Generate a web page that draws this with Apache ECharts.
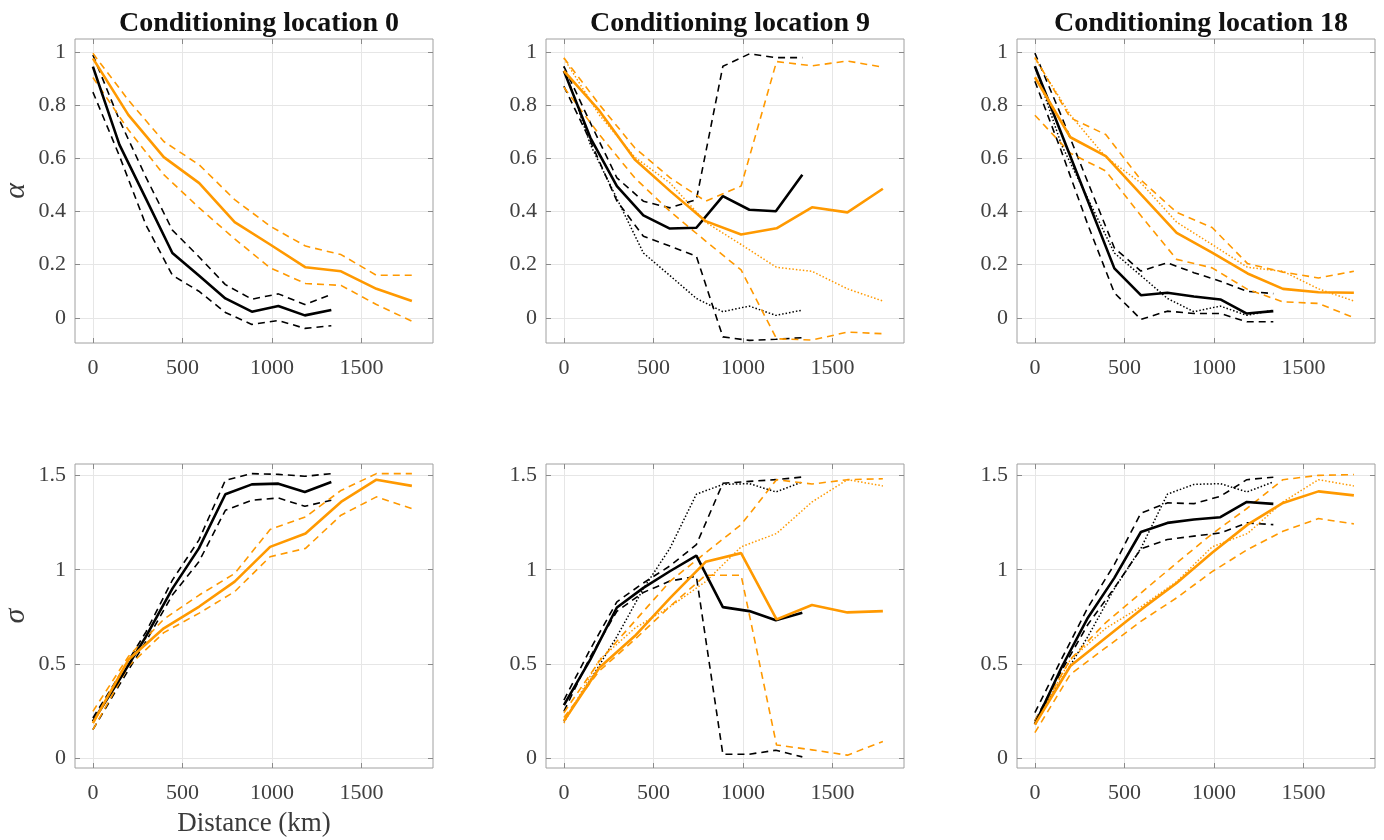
<!DOCTYPE html>
<html>
<head>
<meta charset="utf-8">
<title>Conditioning locations</title>
<script src="https://cdn.jsdelivr.net/npm/echarts@6/dist/echarts.min.js"></script>
<style>
html, body { margin: 0; padding: 0; background: #fff; }
#chart { width: 1384px; height: 840px; }
</style>
</head>
<body>
<div id="chart"></div>
<script>
// distances (km) of the curve vertices
const distBlack = [0, 148, 296, 444, 592, 740, 888, 1036, 1184, 1332]
const distOrange = [0, 198, 396, 594, 792, 990, 1188, 1386, 1584, 1782]

// alpha, conditioning location 0
const a0BlackMid = [0.946, 0.652, 0.449, 0.244, 0.159, 0.073, 0.023, 0.044, 0.009, 0.029]
const a0BlackHi = [0.99, 0.745, 0.53, 0.33, 0.23, 0.125, 0.07, 0.09, 0.05, 0.088]
const a0BlackLo = [0.85, 0.61, 0.35, 0.16, 0.10, 0.02, -0.025, -0.01, -0.04, -0.03]
const a0OrangeMid = [0.977, 0.764, 0.605, 0.507, 0.36, 0.276, 0.19, 0.175, 0.109, 0.063]
const a0OrangeHi = [0.996, 0.82, 0.664, 0.576, 0.445, 0.345, 0.27, 0.238, 0.16, 0.16]
const a0OrangeLo = [0.905, 0.708, 0.539, 0.414, 0.297, 0.188, 0.129, 0.122, 0.05, -0.013]

// alpha, conditioning location 9
const a9BlackMid = [0.93, 0.678, 0.496, 0.386, 0.336, 0.339, 0.458, 0.407, 0.401, 0.539]
const a9BlackHi = [0.947, 0.734, 0.527, 0.439, 0.414, 0.445, 0.947, 0.994, 0.98, 0.98]
const a9BlackLo = [0.872, 0.665, 0.44, 0.307, 0.27, 0.232, -0.072, -0.085, -0.081, -0.075]
const a9OrangeMid = [0.93, 0.78, 0.596, 0.477, 0.364, 0.314, 0.337, 0.416, 0.397, 0.486]
const a9OrangeHi = [0.979, 0.803, 0.64, 0.527, 0.439, 0.496, 0.965, 0.949, 0.967, 0.944]
const a9OrangeLo = [0.868, 0.69, 0.527, 0.40, 0.289, 0.18, -0.079, -0.084, -0.054, -0.06]

// alpha, conditioning location 18
const a18BlackMid = [0.947, 0.694, 0.44, 0.186, 0.085, 0.094, 0.08, 0.069, 0.016, 0.025]
const a18BlackHi = [0.997, 0.76, 0.51, 0.263, 0.176, 0.207, 0.17, 0.138, 0.10, 0.091]
const a18BlackLo = [0.891, 0.627, 0.35, 0.094, -0.006, 0.025, 0.016, 0.016, -0.015, -0.015]
const a18OrangeMid = [0.906, 0.68, 0.609, 0.464, 0.32, 0.245, 0.167, 0.109, 0.096, 0.094]
const a18OrangeHi = [0.981, 0.753, 0.69, 0.518, 0.397, 0.34, 0.204, 0.172, 0.15, 0.175]
const a18OrangeLo = [0.763, 0.62, 0.553, 0.383, 0.22, 0.188, 0.107, 0.06, 0.054, 0.0]

// sigma, conditioning location 0
const s0BlackMid = [0.197, 0.417, 0.646, 0.90, 1.113, 1.40, 1.452, 1.456, 1.412, 1.465]
const s0BlackHi = [0.215, 0.44, 0.67, 0.945, 1.157, 1.474, 1.509, 1.505, 1.495, 1.509]
const s0BlackLo = [0.153, 0.39, 0.62, 0.866, 1.042, 1.315, 1.368, 1.38, 1.336, 1.368]
const s0OrangeMid = [0.188, 0.523, 0.69, 0.805, 0.937, 1.121, 1.192, 1.359, 1.477, 1.444]
const s0OrangeHi = [0.25, 0.54, 0.738, 0.866, 0.98, 1.213, 1.28, 1.42, 1.509, 1.509]
const s0OrangeLo = [0.153, 0.488, 0.667, 0.77, 0.884, 1.069, 1.113, 1.289, 1.386, 1.324]

// sigma, conditioning location 9
const s9BlackMid = [0.283, 0.525, 0.80, 0.904, 0.992, 1.075, 0.802, 0.781, 0.733, 0.772]
const s9BlackHi = [0.31, 0.58, 0.83, 0.93, 1.02, 1.133, 1.458, 1.468, 1.477, 1.491]
const s9BlackLo = [0.25, 0.54, 0.78, 0.88, 0.94, 0.965, 0.023, 0.023, 0.044, 0.009]
const s9OrangeMid = [0.199, 0.481, 0.649, 0.851, 1.042, 1.088, 0.737, 0.813, 0.774, 0.781]
const s9OrangeHi = [0.243, 0.516, 0.728, 0.94, 1.09, 1.239, 1.477, 1.454, 1.477, 1.482]
const s9OrangeLo = [0.217, 0.464, 0.631, 0.807, 0.971, 0.971, 0.072, 0.046, 0.018, 0.09]

// sigma, conditioning location 18
const s18BlackMid = [0.182, 0.481, 0.746, 0.957, 1.20, 1.248, 1.266, 1.278, 1.359, 1.349]
const s18BlackHi = [0.243, 0.525, 0.80, 1.028, 1.30, 1.354, 1.35, 1.389, 1.477, 1.49]
const s18BlackLo = [0.20, 0.464, 0.71, 0.904, 1.11, 1.16, 1.178, 1.195, 1.248, 1.239]
const s18OrangeMid = [0.18, 0.49, 0.64, 0.79, 0.93, 1.09, 1.239, 1.354, 1.415, 1.394]
const s18OrangeHi = [0.2, 0.525, 0.72, 0.878, 1.036, 1.19, 1.327, 1.477, 1.5, 1.504]
const s18OrangeLo = [0.137, 0.446, 0.587, 0.728, 0.851, 0.99, 1.107, 1.204, 1.271, 1.243]

const panelTitles = ['Conditioning location 0', 'Conditioning location 9', 'Conditioning location 18']
const distTicks = [0, 500, 1000, 1500]
const alphaTicks = [0, 0.2, 0.4, 0.6, 0.8, 1]
const sigmaTicks = [0, 0.5, 1, 1.5]

const BLACK = '#000000'
const ORANGE = '#ff9900'
const FONT = 'Liberation Serif'

// dotted lines in panels 9 / 18 repeat the location 0 estimate
const panels = [
  { row: 0, col: 0, lines: [
    [distBlack, a0BlackHi, BLACK, 'dash'], [distBlack, a0BlackLo, BLACK, 'dash'], [distBlack, a0BlackMid, BLACK, 'solid'],
    [distOrange, a0OrangeHi, ORANGE, 'dash'], [distOrange, a0OrangeLo, ORANGE, 'dash'], [distOrange, a0OrangeMid, ORANGE, 'solid']] },
  { row: 0, col: 1, lines: [
    [distBlack, a0BlackMid, BLACK, 'dot'],
    [distBlack, a9BlackHi, BLACK, 'dash'], [distBlack, a9BlackLo, BLACK, 'dash'], [distBlack, a9BlackMid, BLACK, 'solid'],
    [distOrange, a0OrangeMid, ORANGE, 'dot'],
    [distOrange, a9OrangeHi, ORANGE, 'dash'], [distOrange, a9OrangeLo, ORANGE, 'dash'], [distOrange, a9OrangeMid, ORANGE, 'solid']] },
  { row: 0, col: 2, lines: [
    [distBlack, a0BlackMid, BLACK, 'dot'],
    [distBlack, a18BlackHi, BLACK, 'dash'], [distBlack, a18BlackLo, BLACK, 'dash'], [distBlack, a18BlackMid, BLACK, 'solid'],
    [distOrange, a0OrangeMid, ORANGE, 'dot'],
    [distOrange, a18OrangeHi, ORANGE, 'dash'], [distOrange, a18OrangeLo, ORANGE, 'dash'], [distOrange, a18OrangeMid, ORANGE, 'solid']] },
  { row: 1, col: 0, lines: [
    [distBlack, s0BlackHi, BLACK, 'dash'], [distBlack, s0BlackLo, BLACK, 'dash'], [distBlack, s0BlackMid, BLACK, 'solid'],
    [distOrange, s0OrangeHi, ORANGE, 'dash'], [distOrange, s0OrangeLo, ORANGE, 'dash'], [distOrange, s0OrangeMid, ORANGE, 'solid']] },
  { row: 1, col: 1, lines: [
    [distBlack, s0BlackMid, BLACK, 'dot'],
    [distBlack, s9BlackHi, BLACK, 'dash'], [distBlack, s9BlackLo, BLACK, 'dash'], [distBlack, s9BlackMid, BLACK, 'solid'],
    [distOrange, s0OrangeMid, ORANGE, 'dot'],
    [distOrange, s9OrangeHi, ORANGE, 'dash'], [distOrange, s9OrangeLo, ORANGE, 'dash'], [distOrange, s9OrangeMid, ORANGE, 'solid']] },
  { row: 1, col: 2, lines: [
    [distBlack, s0BlackMid, BLACK, 'dot'],
    [distBlack, s18BlackHi, BLACK, 'dash'], [distBlack, s18BlackLo, BLACK, 'dash'], [distBlack, s18BlackMid, BLACK, 'solid'],
    [distOrange, s0OrangeMid, ORANGE, 'dot'],
    [distOrange, s18OrangeHi, ORANGE, 'dash'], [distOrange, s18OrangeLo, ORANGE, 'dash'], [distOrange, s18OrangeMid, ORANGE, 'solid']] }
]

const colLeft = [75, 546, 1017]
const rowTop = [39, 464]
const plotW = 358
const plotH = 304

const lineStyles = {
  solid: { width: 2.6, type: 'solid' },
  dash: { width: 1.6, type: [7, 5] },
  dot: { width: 1.5, type: [1.5, 2] }
}

function plainNumber (v) {
  return String(v)
}

const grid = []
const xAxis = []
const yAxis = []
const series = []
const title = []

panels.forEach(function (p, i) {
  const isAlpha = p.row === 0
  const yTicks = isAlpha ? alphaTicks : sigmaTicks
  const yMin = isAlpha ? -0.095 : -0.05
  const yMax = isAlpha ? 1.05 : 1.56

  grid.push({
    left: colLeft[p.col],
    top: rowTop[p.row],
    width: plotW,
    height: plotH,
    show: true,
    borderColor: '#a0a0a0',
    borderWidth: 1,
    backgroundColor: '#fff'
  })

  xAxis.push({
    gridIndex: i,
    type: 'value',
    min: -100,
    max: 1900,
    name: (p.row === 1 && p.col === 0) ? 'Distance (km)' : '',
    nameLocation: 'middle',
    nameGap: 42,
    nameTextStyle: { fontFamily: FONT, fontSize: 27, color: '#3a3a3a' },
    axisLine: { show: false, onZero: false },
    axisTick: { show: true, inside: true, length: 5, customValues: distTicks, lineStyle: { color: '#8a8a8a' } },
    axisLabel: { customValues: distTicks, formatter: plainNumber, fontFamily: FONT, fontSize: 22, color: '#404040', margin: 14 },
    splitLine: { show: true, lineStyle: { color: '#e6e6e6', width: 1 } }
  })
  xAxis.push({
    gridIndex: i,
    type: 'value',
    position: 'top',
    min: -100,
    max: 1900,
    axisLine: { show: false, onZero: false },
    axisTick: { show: true, inside: true, length: 5, customValues: distTicks, lineStyle: { color: '#8a8a8a' } },
    axisLabel: { show: false },
    splitLine: { show: false }
  })

  yAxis.push({
    gridIndex: i,
    type: 'value',
    min: yMin,
    max: yMax,
    name: p.col === 0 ? (isAlpha ? 'α' : 'σ') : '',
    nameLocation: 'middle',
    nameRotate: 90,
    nameGap: 44,
    nameTextStyle: { fontFamily: FONT, fontSize: 30, fontStyle: 'italic', color: '#3a3a3a' },
    axisLine: { show: false, onZero: false },
    axisTick: { show: true, inside: true, length: 5, customValues: yTicks, lineStyle: { color: '#8a8a8a' } },
    axisLabel: { customValues: yTicks, formatter: plainNumber, fontFamily: FONT, fontSize: 22, color: '#404040', margin: 9 },
    splitLine: { show: true, lineStyle: { color: '#e6e6e6', width: 1 } }
  })
  yAxis.push({
    gridIndex: i,
    type: 'value',
    position: 'right',
    min: yMin,
    max: yMax,
    axisLine: { show: false, onZero: false },
    axisTick: { show: true, inside: true, length: 5, customValues: yTicks, lineStyle: { color: '#8a8a8a' } },
    axisLabel: { show: false },
    splitLine: { show: false }
  })

  p.lines.forEach(function (ln) {
    const xs = ln[0]
    const ys = ln[1]
    series.push({
      type: 'line',
      xAxisIndex: 2 * i,
      yAxisIndex: 2 * i,
      symbol: 'none',
      silent: true,
      animation: false,
      clip: true,
      z: ln[3] === 'solid' ? 4 : 3,
      lineStyle: Object.assign({ color: ln[2] }, lineStyles[ln[3]]),
      data: xs.map(function (x, k) { return [x, ys[k]] })
    })
  })

  if (isAlpha) {
    title.push({
      text: panelTitles[p.col],
      left: colLeft[p.col] + plotW / 2,
      top: 5,
      textAlign: 'center',
      textStyle: { fontFamily: FONT, fontWeight: 'bold', fontSize: 28, color: '#111' }
    })
  }
})

const chart = echarts.init(document.getElementById('chart'))
chart.setOption({
  backgroundColor: '#ffffff',
  animation: false,
  title: title,
  grid: grid,
  xAxis: xAxis,
  yAxis: yAxis,
  series: series
})
</script>
</body>
</html>
